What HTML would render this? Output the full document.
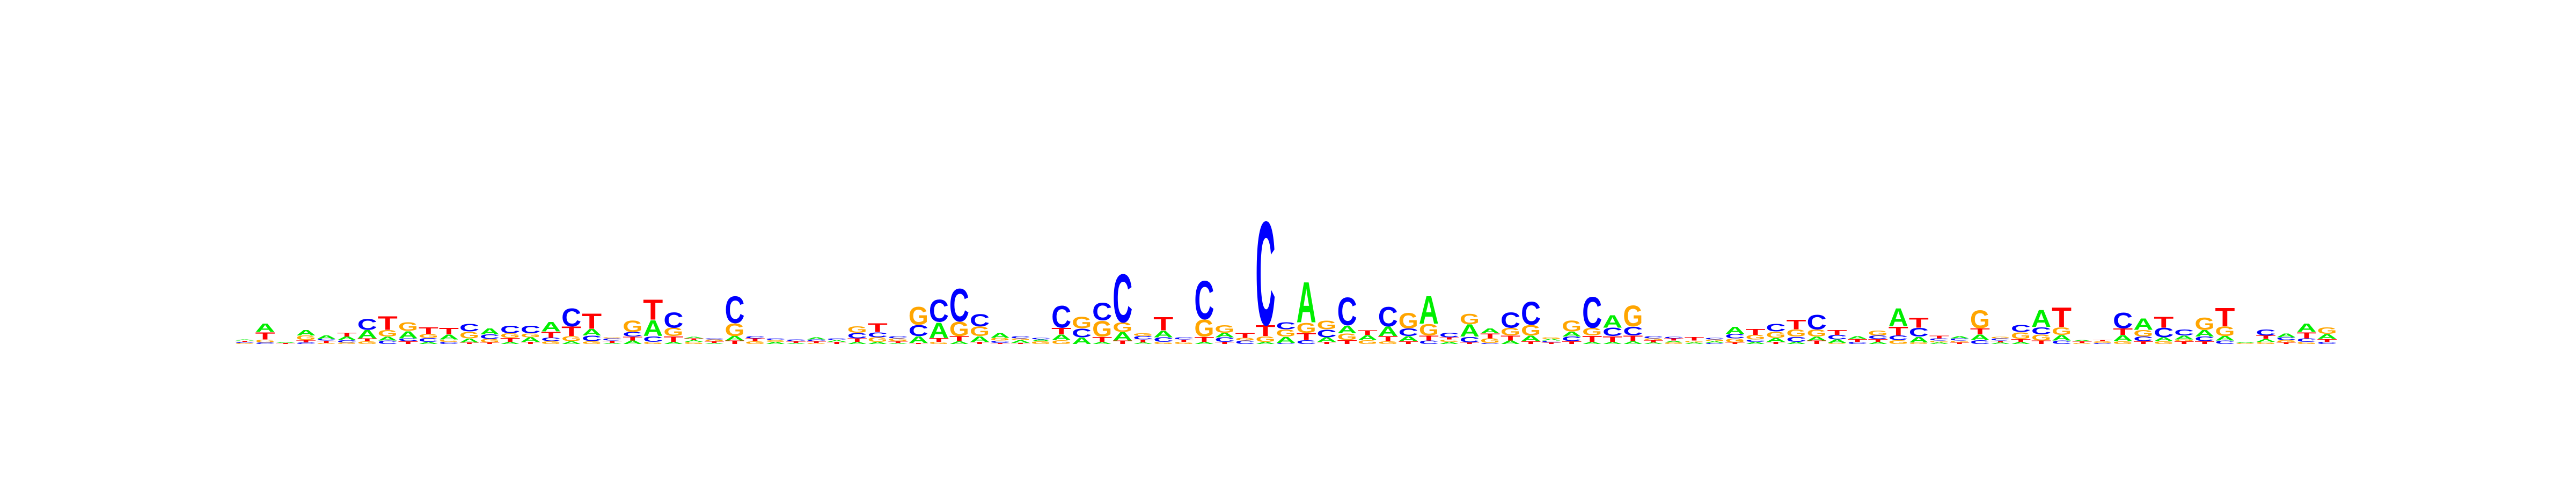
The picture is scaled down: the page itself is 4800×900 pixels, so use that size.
<!DOCTYPE html>
<html><head><meta charset="utf-8"><style>
html,body{margin:0;padding:0;background:#fff;}
svg{display:block;}
</style></head><body>
<svg id="logo" width="4800" height="900" viewBox="0 0 4800 900" xmlns="http://www.w3.org/2000/svg">
<rect x="0" y="0" width="4800" height="900" fill="#ffffff"/>
<g id="stacks"></g>
</svg>
<script>
// Letters per position, bottom to top
const stackLetters = [
"GCTA","CGTA","TA","CTGA","GTCA","GCAT","GTAC","CAGT","TCAG","ACGT",
"CGAT","TAGC","TGCA","ATGC","TAGC","GCTA","AGTC","GCAT","ATCG","ATCG",
"GCAT","ATGC","GATA","ATGC","TAGC","GTC","AGC","ATC","GTCA","TAC",
"ATCG","AGCT","ATGC","TACG","GTAC","ATGC","TAGC","TCGA","TAGC","GAC",
"GATC","ACG","ATGC","TAGC","ATCG","GCAT","GTC","ATGC","TCAG","CGT",
"AGTC","CAGC","CTGA","TACG","TGAC","GAT","GTAC","TACG","CTGA","AGTC",
"TCAG","CGTA","ATGC","TAGC","TCAG","TCAG","ATGC","ATCA","ATCG","ATGC",
"GATC","AGT","CAGC","TGCA","ACGT","TAGC","ACGT","TAGC","GACT","CTA",
"ATCG","GCTA","GACT","AGCT","TGCA","CATG","ATCG","ATGC","TGCA","CAGT",
"GTA","CGT","GATC","TCGA","GACT","TGAC","TCAG","CAGT","GA","GATC",
"TGCA","GCTA","CTAG"
];
// Heights per letter (centibits), bottom to top
const stackHeights = [
[2,2,2,2],[3,5,13,15],[2,2],[3,4,8,10],[2,4,3,6],[3,4,6,7],[5,5,15,20],[6,7,12,25],[5,5,13,16],[4,7,7,12],
[4,4,9,12],[3,7,12,14],[3,6,8,11],[4,7,8,14],[4,8,7,14],[5,6,11,17],[5,9,17,33],[5,10,12,28],[2,4,4,2],[6,7,8,21],
[4,10,29,37],[4,10,15,28],[4,3,3,3],[2,3,3,2],[6,8,23,49],[5,5,4],[4,3,3],[2,3,3],[2,3,3,4],[4,3,3],
[4,6,10,12],[4,8,9,16],[2,3,5,4],[2,12,20,33],[4,7,28,41],[5,9,26,60],[4,10,17,22],[2,4,5,9],[2,5,3,4],[5,3,3],
[7,10,12,40],[12,16,21],[4,9,29,32],[6,15,17,88],[3,5,6,5],[4,8,12,24],[4,4,4],[4,9,31,70],[4,8,8,14],[6,5,9],
[4,10,20,190],[2,11,13,13],[7,13,18,74],[4,8,14,16],[7,12,14,51],[7,9,8],[5,9,17,36],[5,9,14,28],[6,9,21,51],[4,4,4,8],
[3,10,22,19],[2,8,9,9],[6,9,14,28],[5,10,19,42],[3,3,3,3],[5,8,9,20],[4,11,14,57],[4,10,15,23],[5,10,16,38],[3,4,3,4],
[3,3,4,3],[3,3,6],[2,3,3,3],[3,7,8,13],[4,4,8,11],[4,7,11,14],[4,9,13,17],[6,7,13,27],[2,6,8,9],[4,5,5],
[4,5,6,9],[7,8,16,33],[3,10,16,18],[3,3,4,5],[3,3,4,4],[7,10,11,33],[3,3,4,3],[4,5,12,13],[6,11,13,31],[6,10,14,36],
[2,3,2],[2,3,2],[5,11,12,29],[5,8,12,21],[5,7,17,20],[5,3,7,11],[5,8,12,22],[6,8,17,34],[2,2],[4,5,6,11],
[3,4,5,7],[4,6,11,15],[4,5,9,12]
];
const letterColors = {A:"#00ee00", C:"#0000ff", G:"#ffa500", T:"#ff0000"};

const plotLeft = 437, colWidth = 38.04, baseline = 641, pxPerUnit = 1.06;
function xScale(i){ return plotLeft + i*colWidth; }
function yScale(v){ return v*pxPerUnit; }
const capH = 72.9;
const NS = "http://www.w3.org/2000/svg";
const g = document.getElementById('stacks');
stackLetters.forEach(function(letters, i){
  const col = document.createElementNS(NS,'g');
  
  
  let y = baseline;
  for (let k=0;k<letters.length;k++){
    const L = letters[k];
    const h = yScale(stackHeights[i][k] || 0);
    if (h <= 0) continue;
    const t = document.createElementNS(NS,'text');
    
    
    t.setAttribute('x', 0);
    t.setAttribute('y', 0);
    t.setAttribute('font-family', '"Liberation Sans", Arial, sans-serif');
    t.setAttribute('font-weight', 'bold');
    t.setAttribute('font-size', '100');
    t.setAttribute('textLength', (colWidth-1).toFixed(2));
    t.setAttribute('lengthAdjust', 'spacingAndGlyphs');
    t.setAttribute('fill', letterColors[L]);
    t.setAttribute('transform', 'translate(' + (xScale(i)+0.5).toFixed(2) + ',' + y.toFixed(2) + ') scale(1,' + (h/capH).toFixed(4) + ')');
    t.textContent = L;
    col.appendChild(t);
    y -= h;
  }
  g.appendChild(col);
});
</script>
</body></html>
